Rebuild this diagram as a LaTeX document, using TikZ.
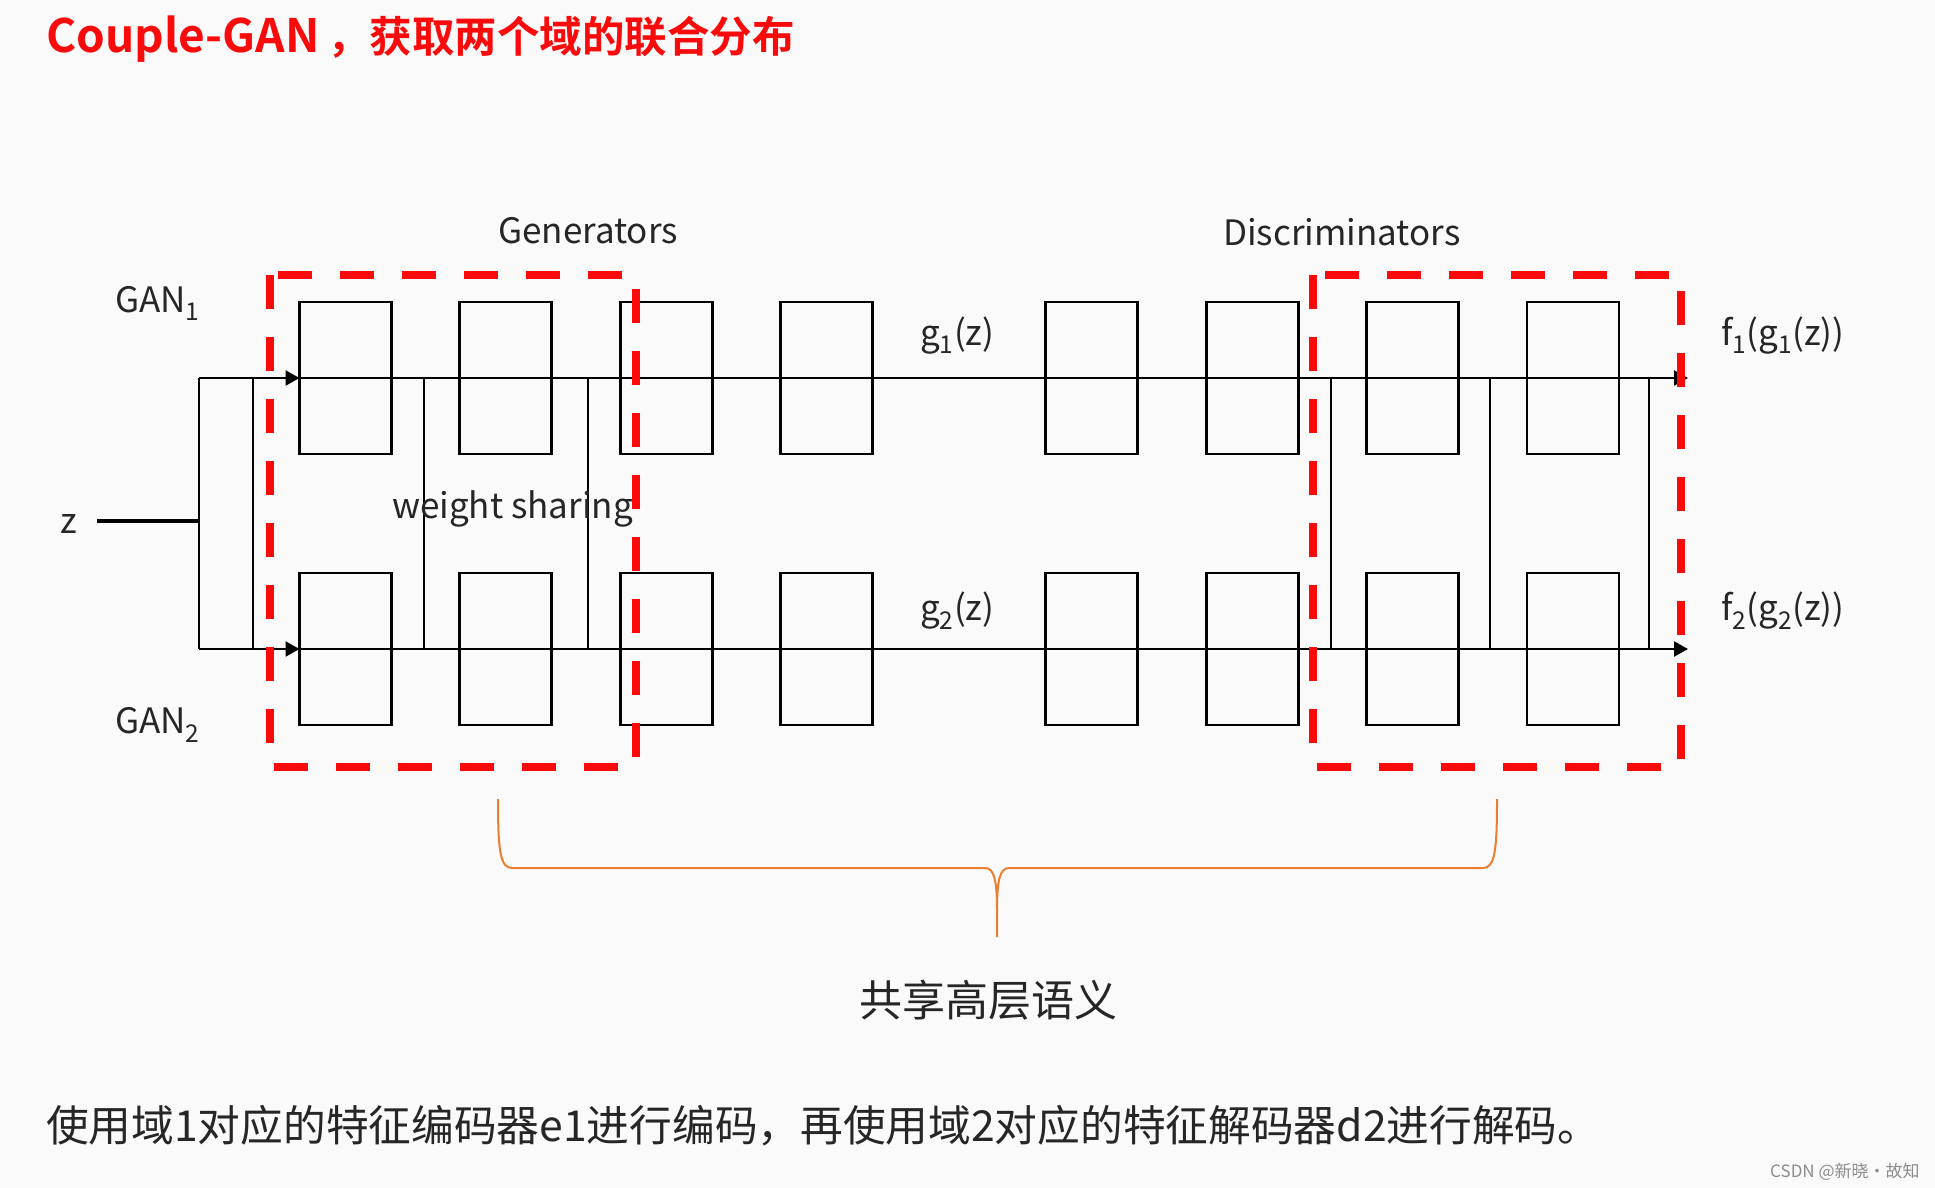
\documentclass[tikz,border=0pt]{standalone}
\usepackage{fontspec}
\setmainfont{Noto Sans CJK SC}[BoldFont={* Bold}]
\usepackage{xcolor}
\usepackage{tikz}
\usetikzlibrary{arrows.meta}
\definecolor{slidered}{RGB}{250,10,10}
\definecolor{braceorange}{RGB}{237,125,49}
\tikzset{
  blk/.style={draw,line width=2.4pt,minimum width=92pt,minimum height=152pt,inner sep=0pt,outer sep=0pt},
  wire/.style={line width=2.4pt},
  arr/.style={-{Triangle[length=14pt,width=15pt]},line width=2.4pt},
  redbox/.style={draw=slidered,line width=8pt,dash pattern=on 34pt off 28pt},
  lbl/.style={font=\fontsize{35}{40}\selectfont,text=black!85,inner sep=0pt,anchor=base west},
}

\begin{document}
\begin{tikzpicture}[x=1pt,y=-1pt]
\fill[white!98!black] (0,0) rectangle (1935,1188);
\useasboundingbox (0,0) rectangle (1935,1188);
% title
\node[anchor=base west,inner sep=0pt,text=slidered,font=\bfseries\fontsize{46}{50}\selectfont] (title) at (46,53)
  {Couple-GAN\,{\fontsize{42.5}{50}\selectfont，获取两个域的联合分布}};
% layers of the two nets
\foreach \i/\x in {1/345.5,2/505.5,3/666.5,4/826.5,5/1091.5,6/1252.5,7/1412.5,8/1573}{
  \node[blk] (u\i) at (\x,378) {};
  \node[blk] (l\i) at (\x,649) {};
}
\coordinate (s1) at (199,378); \coordinate (s2) at (199,649);
\coordinate (e1) at (1688,378); \coordinate (e2) at (1688,649);
\coordinate (zl) at (97,521); \coordinate (zs) at (199,521);
\draw[wire,line width=3.2pt] (zl)--(zs); \draw[wire] (s1)--(s2);
\draw[arr] (s1)--(u1.west); \draw[arr] (s2)--(l1.west);
\draw[arr] (u1.west)--(e1); \draw[arr] (l1.west)--(e2);
\foreach \x in {253,424,588,1331,1490,1649} \draw[wire] (\x,0 |- s1)--(\x,0 |- s2);
% shared parts
\draw[redbox] (270,275) rectangle (636,767);
\draw[redbox] (1313,275) rectangle (1681,767);
% labels
\node[lbl] (gen) at (498,243) {Generators};
\node[lbl] (dis) at (1223,245) {Discriminators};
\node[lbl] (gan1) at (115,312) {GAN\textsubscript{1}};
\node[lbl] (gan2) at (115,733) {GAN\textsubscript{2}};
\node[lbl] (z) at (60,533) {z};
\node[lbl] (ws) at (392,518) {weight sharing};
\node[lbl] (g1) at (920,345) {g\textsubscript{1}(z)};
\node[lbl] (g2) at (920,620) {g\textsubscript{2}(z)};
\node[lbl] (f1) at (1721,345) {f\textsubscript{1}(g\textsubscript{1}(z))};
\node[lbl] (f2) at (1721,620) {f\textsubscript{2}(g\textsubscript{2}(z))};
% brace
\coordinate (bl) at (498,799); \coordinate (br) at (1497,799); \coordinate (bt) at (997,937);
\draw[braceorange,line width=2pt] (bl) .. controls (498,850) and (500,868) .. (512,868) -- (985,868)
  .. controls (994,868) and (997,880) .. (997,910) -- (bt);
\draw[braceorange,line width=2pt] (br) .. controls (1497,850) and (1495,868) .. (1483,868) -- (1009,868)
  .. controls (1000,868) and (997,880) .. (997,910);
\node[anchor=base,inner sep=0pt,text=black!85,font=\fontsize{43}{48}\selectfont] (sem) at (988,1016) {共享高层语义};
\node[anchor=base west,inner sep=0pt,text=black!85,font=\fontsize{42.7}{46}\selectfont] (note) at (46,1141) {使用域1对应的特征编码器e1进行编码，再使用域2对应的特征解码器d2进行解码。};
\node[anchor=west,inner sep=0pt,text=black!45,font=\fontsize{17}{20}\selectfont] (mark) at (1770,1172) {CSDN @新晓·故知};
\end{tikzpicture}
\end{document}
